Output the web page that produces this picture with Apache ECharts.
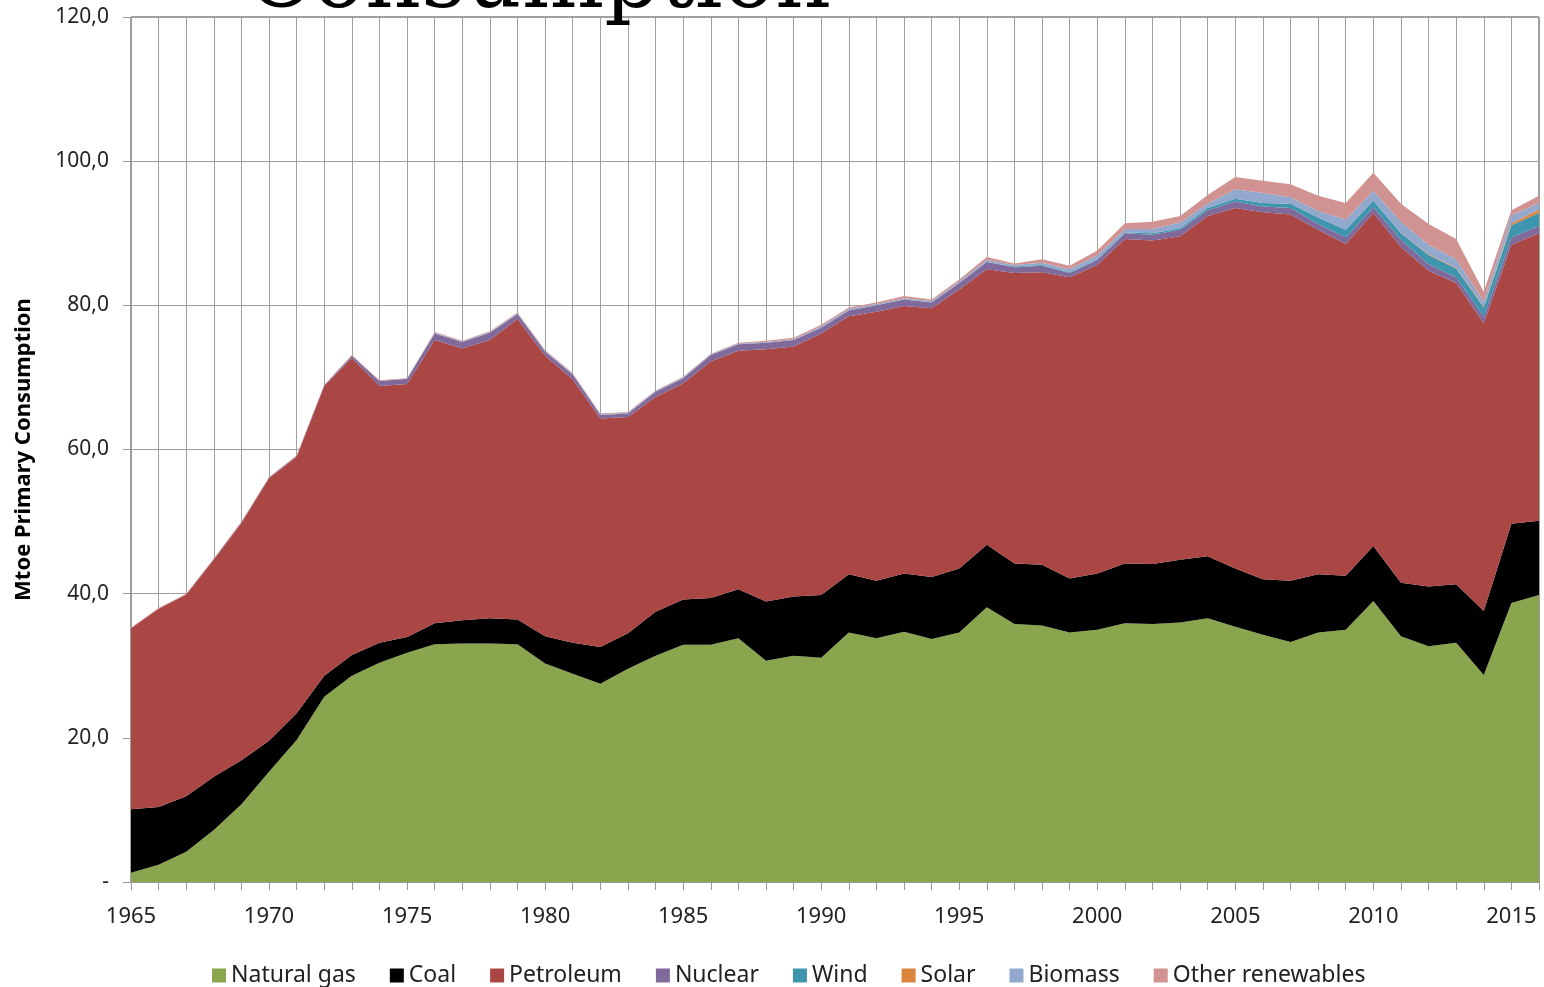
<!DOCTYPE html>
<html>
<head>
<meta charset="utf-8">
<script src="https://cdn.jsdelivr.net/npm/echarts@6/dist/echarts.min.js"></script>
<style>
  html, body { margin: 0; padding: 0; background: #fff; }
  #chart { width: 1544px; height: 987px; }
</style>
</head>
<body>
<div id="chart"></div>
<script>
var years = ['1965','1966','1967','1968','1969','1970','1971','1972','1973','1974',
    '1975','1976','1977','1978','1979','1980','1981','1982','1983','1984',
    '1985','1986','1987','1988','1989','1990','1991','1992','1993','1994',
    '1995','1996','1997','1998','1999','2000','2001','2002','2003','2004',
    '2005','2006','2007','2008','2009','2010','2011','2012','2013','2014',
    '2015','2016'];

// Mtoe per source, bottom to top of the stack
var naturalGas = [1.3,2.4,4.2,7.2,10.8,15.3,19.7,25.7,28.6,30.4,
    31.8,33.0,33.1,33.1,33.0,30.3,28.9,27.5,29.6,31.4,
    32.9,32.9,33.8,30.7,31.4,31.1,34.6,33.8,34.7,33.7,
    34.6,38.1,35.8,35.6,34.6,35.0,35.9,35.8,36.0,36.6,
    35.4,34.3,33.3,34.6,35.0,39.0,34.1,32.7,33.2,28.7,
    38.7,39.8];
var coal = [8.8,8.0,7.7,7.4,6.1,4.3,3.7,2.9,2.9,2.8,
    2.2,2.9,3.2,3.5,3.4,3.8,4.3,5.1,4.9,6.1,
    6.3,6.5,6.8,8.2,8.2,8.7,8.1,8.0,8.1,8.6,
    8.9,8.7,8.4,8.4,7.5,7.8,8.3,8.3,8.7,8.6,
    8.1,7.7,8.5,8.1,7.5,7.6,7.4,8.3,8.1,8.9,
    11.0,10.3];
var petroleum = [25.1,27.5,28.0,30.1,32.9,36.4,35.6,40.2,41.2,35.6,
    35.1,39.3,37.7,38.6,41.7,38.9,36.5,31.7,30.0,29.8,
    30.0,32.8,33.1,35.0,34.7,36.3,35.8,37.3,37.1,37.3,
    38.7,38.2,40.3,40.6,41.8,42.8,45.0,44.9,44.9,47.2,
    50.0,50.9,50.8,47.8,46.0,46.2,46.6,43.8,41.8,39.9,
    38.7,39.9];
var nuclear = [0,0,0,0.1,0.1,0.1,0.1,0.1,0.3,0.7,
    0.7,0.9,0.9,1.0,0.7,0.6,0.7,0.5,0.5,0.7,
    0.7,0.9,0.9,0.9,0.9,0.8,0.8,0.9,0.9,0.8,
    0.9,1.0,0.8,0.9,0.6,0.7,0.8,0.8,0.9,0.8,
    0.9,0.8,0.9,0.8,0.9,0.8,1.0,0.9,0.8,0.9,
    1.0,1.0];
var wind = [0,0,0,0,0,0,0,0,0,0,
    0,0,0,0,0,0,0,0,0,0,
    0,0,0,0,0,0,0,0,0,0,
    0,0,0.1,0.1,0.1,0.1,0.1,0.2,0.2,0.3,
    0.4,0.5,0.6,0.9,1.1,0.9,0.9,1.3,1.2,1.3,
    1.7,1.8];
var solar = [0,0,0,0,0,0,0,0,0,0,
    0,0,0,0,0,0,0,0,0,0,
    0,0,0,0,0,0,0,0,0,0,
    0,0,0,0,0,0,0,0,0,0,
    0,0,0,0,0,0,0,0.1,0.1,0.1,
    0.3,0.5];
var biomass = [0,0,0,0,0,0,0,0,0,0,
    0,0.1,0.1,0.1,0.1,0.1,0.1,0.1,0.1,0.1,
    0.1,0.1,0.1,0.1,0.1,0.2,0.2,0.2,0.2,0.2,
    0.2,0.3,0.2,0.3,0.4,0.5,0.5,0.6,0.8,0.6,
    1.3,1.4,0.9,0.9,1.4,1.4,1.6,1.3,1.2,0.7,
    1.1,0.9];
var otherRenewables = [0.1,0.1,0.1,0.1,0.1,0.1,0.1,0.1,0.1,0.1,
    0.1,0.1,0.1,0.1,0.1,0.1,0.1,0.1,0.1,0.1,
    0.1,0.1,0.1,0.2,0.2,0.2,0.2,0.2,0.3,0.2,
    0.3,0.4,0.2,0.5,0.5,0.7,0.8,1.0,0.9,1.2,
    1.7,1.7,1.8,2.1,2.3,2.5,2.5,2.9,2.8,1.4,
    0.7,1.0];

var seriesNames = ['Natural gas','Coal','Petroleum','Nuclear','Wind','Solar','Biomass','Other renewables'];
var seriesData = [naturalGas, coal, petroleum, nuclear, wind, solar, biomass, otherRenewables];
var colors = ['#89A54E','#000000','#AA4643','#80699B','#3D96AE','#DB843D','#92A8CD','#D19392'];

var myChart = echarts.init(document.getElementById('chart'));

var series = seriesNames.map(function (name, i) {
    return {
        name: name,
        type: 'line',
        stack: 'total',
        data: seriesData[i],
        showSymbol: false,
        symbol: 'none',
        lineStyle: { width: 0 },
        areaStyle: { color: colors[i], opacity: 1 },
        itemStyle: { color: colors[i] },
        animation: false
    };
});

var option = {
    animation: false,
    textStyle: { fontFamily: 'Noto Sans' },
    // title is cut off by the top edge in the original slide
    graphic: [{
        type: 'text',
        left: 246,
        top: -59,
        style: {
            text: 'Consumption',
            font: '87px "DejaVu Serif"',
            fill: '#000'
        },
        z: 100
    }],
    grid: {
        left: 131,
        right: 5,
        top: 17,
        bottom: 105,
        show: true,
        borderColor: '#404040',
        borderWidth: 1
    },
    legend: {
        data: seriesNames,
        left: 207,
        top: 959,
        icon: 'rect',
        itemWidth: 14,
        itemHeight: 14,
        itemGap: 34,
        textStyle: { fontSize: 23, color: '#222', fontFamily: 'Noto Sans' }
    },
    xAxis: {
        type: 'category',
        data: years,
        boundaryGap: false,
        axisLine: { lineStyle: { color: '#999' } },
        axisTick: { show: true, interval: 0, length: 8, lineStyle: { color: '#999' } },
        axisLabel: { interval: 4, fontSize: 22, color: '#222', margin: 24 },
        splitLine: { show: true, interval: 0, lineStyle: { color: '#a0a0a0', width: 1 } }
    },
    yAxis: {
        type: 'value',
        min: 0,
        max: 120,
        interval: 20,
        name: 'Mtoe Primary Consumption',
        nameLocation: 'middle',
        nameGap: 96,
        nameRotate: 90,
        nameTextStyle: { fontSize: 22, fontWeight: 'bold', color: '#000' },
        axisLine: { show: true, lineStyle: { color: '#999' } },
        axisTick: { show: true, length: 8, lineStyle: { color: '#999' } },
        axisLabel: {
            fontSize: 21,
            color: '#222',
            margin: 22,
            formatter: function (v) {
                return v === 0 ? '-' : v.toFixed(1).replace('.', ',');
            }
        },
        splitLine: { show: true, lineStyle: { color: '#a0a0a0', width: 1 } }
    },
    series: series
};

myChart.setOption(option);
</script>
</body>
</html>
